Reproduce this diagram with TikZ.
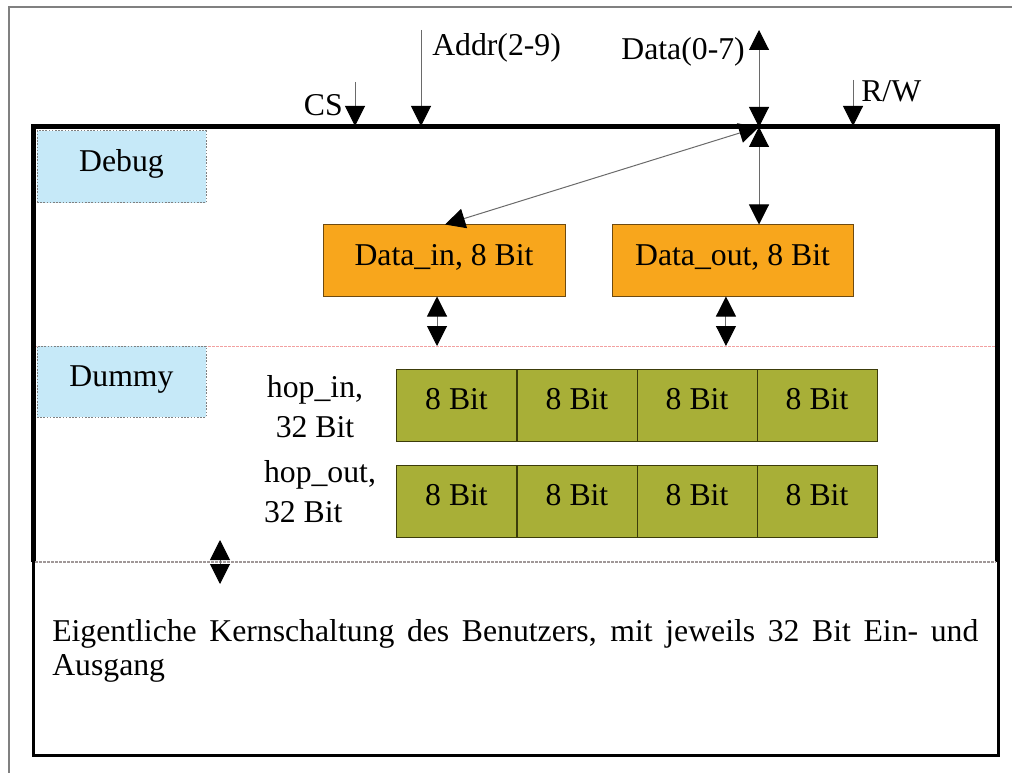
\documentclass[tikz,border=0pt]{standalone}
\usepackage{fontspec}
\setmainfont{Liberation Serif}
\usetikzlibrary{arrows.meta}

\definecolor{boxblue}{HTML}{C6E9F8}
\definecolor{boxorange}{HTML}{F8A61C}
\definecolor{orangeedge}{HTML}{6E4A10}
\definecolor{olivefill}{HTML}{A8AF37}
\definecolor{oliveedge}{HTML}{3C3C0A}
\definecolor{pinkline}{HTML}{F2A0A0}
\definecolor{greyline}{HTML}{A09898}
\definecolor{wirecol}{HTML}{6A6A6A}
\definecolor{pagecol}{HTML}{808080}

\begin{document}
\begin{tikzpicture}[x=0.75pt,y=-0.75pt,
  lbl/.style={font=\fontsize{23.8}{30}\selectfont, inner sep=0pt},
  boxtext/.style={font=\fontsize{23.8}{30}\selectfont, inner sep=0pt,
    text height=16pt, text depth=9pt},
  infobox/.style={boxtext, fill=boxblue, draw=pagecol, line width=0.75pt,
    dash pattern=on 1.2pt off 1.2pt, minimum width=126.75pt, minimum height=54pt},
  regbox/.style={boxtext, fill=boxorange, draw=orangeedge, line width=0.75pt,
    minimum width=181.5pt, minimum height=53.25pt},
  bytebox/.style={boxtext, fill=olivefill, draw=oliveedge, line width=0.75pt,
    minimum width=90pt, minimum height=54pt},
  wire/.style={draw=wirecol, line width=0.75pt},
  tip/.tip={Triangle[width=15pt,length=15pt,color=black]},
  onearrow/.style={wire, -tip},
  twoarrow/.style={wire, tip-tip},
]
\useasboundingbox (0,0) rectangle (1012,773);

% page edge
\draw[pagecol, line width=0.9pt] (9,773) -- (9,7) -- (1012,7);

% outer frame of the interface
\draw[black, line width=3.75pt] (33.5,562) -- (33.5,127) -- (997,127) -- (997,562);

% user core area
\draw[black, line width=2.25pt] (33,562) -- (33,755) -- (998,755) -- (998,562);
\draw[greyline, line width=0.9pt, dash pattern=on 2pt off 1pt] (35,562) -- (996,562);

% separator between register and dummy area
\coordinate (sepL) at (36,346);
\coordinate (sepR) at (995,346);
\draw[pinkline, line width=0.75pt, dash pattern=on 2pt off 1pt] (sepL) -- (sepR);

% side boxes
\node[infobox] (dbg) at (121.5,167) {Debug};
\node[infobox, minimum height=53.25pt] (dmy) at (121.5,381.5) {Dummy};

% data registers
\node[regbox] (din) at (444,260.5) {Data\_in, 8 Bit};
\node[regbox, minimum width=180.75pt] (dout) at (732.5,260.5) {Data\_out, 8 Bit};

% hop registers
\node[bytebox] (hi1) at (456.5,405) {8 Bit};
\node[bytebox] (hi2) at (577,405) {8 Bit};
\node[bytebox] (hi3) at (697,405) {8 Bit};
\node[bytebox] (hi4) at (817,405) {8 Bit};
\node[bytebox] (ho1) at (456.5,501) {8 Bit};
\node[bytebox] (ho2) at (577,501) {8 Bit};
\node[bytebox] (ho3) at (697,501) {8 Bit};
\node[bytebox] (ho4) at (817,501) {8 Bit};

\node[lbl, align=center] (hinL) at (315,407) {hop\_in,\\32 Bit};
\node[lbl, align=left] (houtL) at (320,492) {hop\_out,\\32 Bit};

% bus signals
\node[lbl, anchor=base west] (addrL) at (432,56) {Addr(2-9)};
\node[lbl, anchor=base east] (dataL) at (745,60) {Data(0-7)};
\node[lbl, anchor=base east] (csL) at (343,116) {CS};
\node[lbl, anchor=base west] (rwL) at (861,102) {R/W};

\coordinate (csSrc) at (355,82);
\coordinate (csDst) at (355,126);
\coordinate (addrSrc) at (421,30);
\coordinate (addrDst) at (421,126);
\coordinate (rwSrc) at (853,80);
\coordinate (rwDst) at (853,126);
\coordinate (dataSrc) at (759,30);
\coordinate (dataJ) at (759,127);

\draw[onearrow] (csSrc) -- (csDst);
\draw[onearrow] (addrSrc) -- (addrDst);
\draw[onearrow] (rwSrc) -- (rwDst);
\draw[twoarrow] (dataSrc) -- (dataJ);
\draw[twoarrow] (dataJ) -- (dataJ |- dout.north);
\draw[twoarrow] (dataJ) -- ([xshift=0.75pt]din.north);

% register to hop connections
\draw[twoarrow] ([xshift=-5.25pt]din.south) -- ([xshift=-5.25pt]din.south |- sepL);
\draw[twoarrow] ([xshift=-4.9pt]dout.south) -- ([xshift=-4.9pt]dout.south |- sepL);

% link to the user core
\coordinate (coreUp) at (220,540);
\coordinate (coreDn) at (220,584);
\draw[twoarrow] (coreUp) -- (coreDn);

\node[font=\fontsize{23.8}{25.5}\selectfont, inner sep=0pt, anchor=north west,
  text width=694.5pt, align=justify] (core) at (52,619)
  {\tolerance=10000\exhyphenpenalty=10000\hyphenpenalty=10000
   Eigentliche Kernschaltung des Benutzers, mit jeweils 32 Bit Ein- und\linebreak Ausgang};
\end{tikzpicture}
\end{document}
